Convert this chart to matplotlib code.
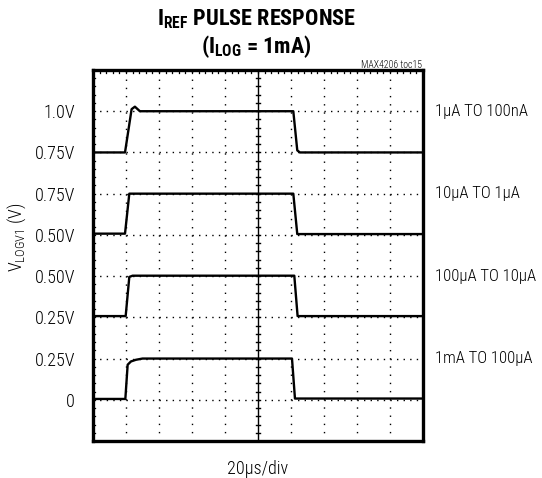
import matplotlib
matplotlib.use("Agg")
import matplotlib.pyplot as plt
import numpy as np
from matplotlib import font_manager

# ---- data (x in divisions of 20us, y in screen divisions) ----
t1_x = [0, 0.97, 1.17, 1.27, 1.42, 6.07, 6.19, 6.27, 10]
t1_y = [7.0, 7.0, 8.05, 8.11, 8.0, 8.0, 7.05, 7.0, 7.0]
t2_x = [0, 0.97, 1.10, 6.07, 6.19, 10]
t2_y = [5.03, 5.03, 6.0, 6.0, 5.02, 5.02]
t3_x = [0, 0.99, 1.10, 1.20, 6.10, 6.20, 10]
t3_y = [3.03, 3.03, 3.98, 4.01, 4.01, 3.03, 3.03]
t4_x = [0, 0.98, 1.05, 1.15, 1.30, 1.50, 6.03, 6.12, 10]
t4_y = [1.02, 1.02, 1.85, 1.93, 1.97, 2.0, 2.0, 1.03, 1.03]
traces = [(t1_x, t1_y), (t2_x, t2_y), (t3_x, t3_y), (t4_x, t4_y)]

ytick_pos = [1, 2, 3, 4, 5, 6, 7, 8]
ytick_labels = ["0", "0.25V", "0.25V", "0.50V", "0.50V", "0.75V", "0.75V", "1.0V"]
trace_labels = ["1\u03bcA TO 100nA", "10\u03bcA TO 1\u03bcA", "100\u03bcA TO 10\u03bcA", "1mA TO 100\u03bcA"]
trace_label_y = [8, 6, 4, 2]

names = {f.name for f in font_manager.fontManager.ttflist}
fam = "DejaVu Sans"
for cand in ["Roboto Condensed", "Archivo Narrow", "Fira Sans Condensed", "Fira Sans Extra Condensed"]:
    if cand in names:
        fam = cand
        break
plt.rcParams['font.family'] = [fam, 'DejaVu Sans']
plt.rcParams['font.weight'] = 300
plt.rcParams['mathtext.fontset'] = 'custom'
plt.rcParams['mathtext.rm'] = fam + ":light"
plt.rcParams['mathtext.bf'] = fam + ":bold"

fig = plt.figure(figsize=(5.42, 4.78), dpi=100)
ax = fig.add_axes([93/542, 37/478, 330/542, 371/478])
ax.set_xlim(0, 10)
ax.set_ylim(0, 9)

# dotted grid
for gx in range(1, 10):
    if gx == 5:
        continue
    ax.axvline(gx, color="black", lw=1.0, linestyle=(0, (1, 4.9)), zorder=1)
for gy in range(1, 9):
    ax.axhline(gy, color="black", lw=1.0, linestyle=(0, (1, 3.75)), zorder=1)

# center axis with ticks
ax.axvline(5, color="black", lw=1.0, zorder=2)
for ty in np.arange(0.2, 9, 0.2):
    ax.plot([4.93, 5.07], [ty, ty], color="black", lw=1.0, zorder=2)

# traces
for x, y in traces:
    ax.plot(x, y, color="black", lw=1.7, zorder=3)

ax.set_xticks([])
ax.set_yticks(ytick_pos)
ax.set_yticklabels(ytick_labels, fontsize=13, fontweight=300)
ax.tick_params(axis='y', length=0, pad=13)
# minor inner ticks on top and left
for tx in np.arange(0.2, 10, 0.2):
    ax.plot([tx, tx], [9, 8.93], color="black", lw=0.9, zorder=2)
for ty in np.arange(0.2, 9, 0.2):
    ax.plot([0, 0.06], [ty, ty], color="black", lw=0.9, zorder=2)

for s in ax.spines.values():
    s.set_linewidth(2.4)

for lab, yy in zip(trace_labels, trace_label_y):
    ax.text(10.36, yy, lab, fontsize=12, fontweight=300, va="center", ha="left", clip_on=False)

ax.set_xlabel("20\u03bcs/div", fontsize=13, fontweight=300, labelpad=14)
fig.text(0.030, 0.503, r"V$_{\mathregular{LOGV1}}$ (V)", rotation=90, fontsize=13,
         fontweight=300, ha="center", va="center")

fig.text(0.473, 0.960, r"I$_{\mathbf{REF}}$ PULSE RESPONSE", fontsize=16,
         fontweight="bold", ha="center", va="center")
fig.text(0.473, 0.903, r"(I$_{\mathbf{LOG}}$ = 1mA)", fontsize=16,
         fontweight="bold", ha="center", va="center")
fig.text(0.778, 0.864, "MAX4206 toc15", fontsize=7, fontweight=300, ha="right", va="center")

fig.savefig("out.png", dpi=100)
